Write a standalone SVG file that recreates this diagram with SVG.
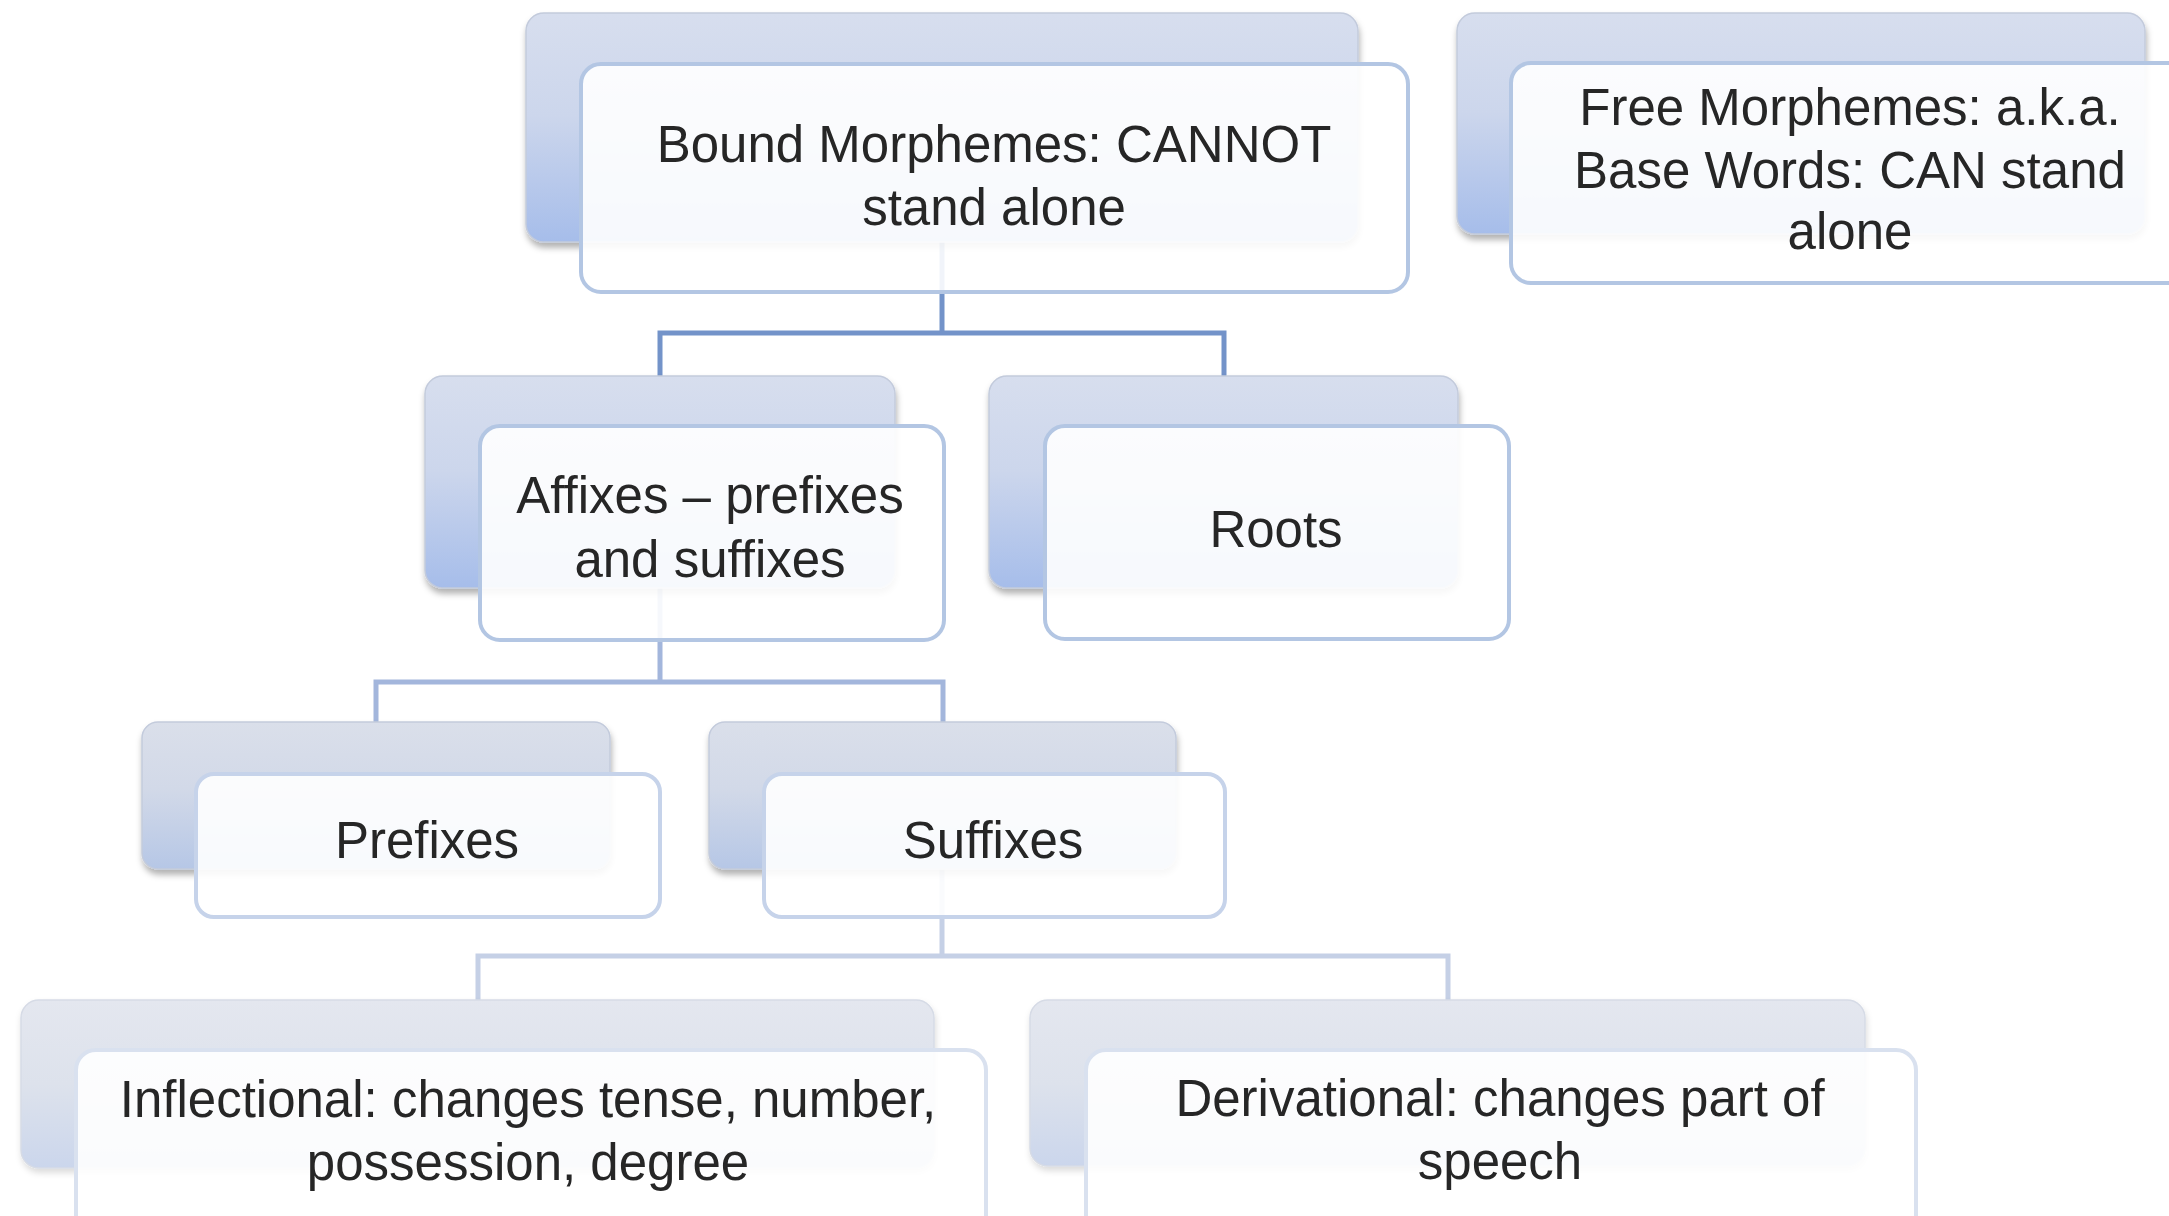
<svg xmlns="http://www.w3.org/2000/svg" width="2169" height="1216" viewBox="0 0 2169 1216">
  <defs>
    <linearGradient id="g1" x1="0" y1="0" x2="0" y2="1">
      <stop offset="0" stop-color="#d7deee"/>
      <stop offset="0.45" stop-color="#ccd6ec"/>
      <stop offset="1" stop-color="#a6bdea"/>
    </linearGradient>
    <linearGradient id="g3" x1="0" y1="0" x2="0" y2="1">
      <stop offset="0" stop-color="#dadfea"/>
      <stop offset="0.45" stop-color="#d2d9e8"/>
      <stop offset="1" stop-color="#b6c7e6"/>
    </linearGradient>
    <linearGradient id="g4" x1="0" y1="0" x2="0" y2="1">
      <stop offset="0" stop-color="#e4e7ef"/>
      <stop offset="0.5" stop-color="#dde2ec"/>
      <stop offset="1" stop-color="#cbd6ec"/>
    </linearGradient>
    <filter id="shadow" x="-5%" y="-5%" width="110%" height="115%">
      <feDropShadow dx="1" dy="5" stdDeviation="3" flood-color="#000" flood-opacity="0.3"/>
    </filter>
    <filter id="soft" x="-5%" y="-5%" width="110%" height="115%">
      <feDropShadow dx="1" dy="4" stdDeviation="3" flood-color="#000" flood-opacity="0.14"/>
    </filter>
  </defs>
  <style>
    .back { stroke: #c3cbdc; stroke-width: 1.5; filter: url(#shadow); }
    .back4 { stroke: #d6dbe6; stroke-width: 1.5; filter: url(#soft); }
    .front { fill: #ffffff; fill-opacity: 0.9; stroke-width: 4; }
    .s1 { stroke: #b3c6e3; }
    .s3 { stroke: #c6d3ea; }
    .s4 { stroke: #d9e1ef; }
    .label { font-family: "Liberation Sans", Arial, sans-serif; font-size: 51px; fill: #262626; text-anchor: middle; }
    .conn { fill: none; stroke-width: 5; stroke-linejoin: miter; }
  </style>
  <rect width="2169" height="1216" fill="#ffffff"/>

  <!-- tree connectors, drawn beneath the boxes -->
  <g id="connectors">
    <path class="conn" stroke="#7393c9" d="M942 242 V333 M660 376 V333 H1224 V376"/>
    <path class="conn" stroke="#a3b6dc" d="M660 588 V682 M376 722 V682 H943 V722"/>
    <path class="conn" stroke="#c5d0e6" d="M942 869 V956 M478 1000 V956 H1448 V1000"/>
  </g>

  <g id="bound">
    <rect class="back" x="526" y="13" width="832" height="229" rx="18" fill="url(#g1)"/>
    <rect class="front s1" x="581" y="64" width="827" height="228" rx="20"/>
    <text class="label" x="994" y="162">Bound Morphemes: CANNOT</text>
    <text class="label" x="994" y="225">stand alone</text>
  </g>

  <g id="free">
    <rect class="back" x="1457" y="13" width="688" height="221" rx="18" fill="url(#g1)"/>
    <rect class="front s1" x="1511" y="63" width="700" height="220" rx="20"/>
    <text class="label" x="1850" y="125">Free Morphemes: a.k.a.</text>
    <text class="label" x="1850" y="188">Base Words: CAN stand</text>
    <text class="label" x="1850" y="249">alone</text>
  </g>

  <g id="affixes">
    <rect class="back" x="425" y="376" width="470" height="212" rx="18" fill="url(#g1)"/>
    <rect class="front s1" x="480" y="426" width="464" height="214" rx="20"/>
    <text class="label" x="710" y="513">Affixes – prefixes</text>
    <text class="label" x="710" y="577">and suffixes</text>
  </g>

  <g id="roots">
    <rect class="back" x="989" y="376" width="469" height="212" rx="18" fill="url(#g1)"/>
    <rect class="front s1" x="1045" y="426" width="464" height="213" rx="20"/>
    <text class="label" x="1276" y="547">Roots</text>
  </g>

  <g id="prefixes">
    <rect class="back" x="142" y="722" width="468" height="147" rx="16" fill="url(#g3)"/>
    <rect class="front s3" x="196" y="774" width="464" height="143" rx="18"/>
    <text class="label" x="427" y="858">Prefixes</text>
  </g>

  <g id="suffixes">
    <rect class="back" x="709" y="722" width="467" height="147" rx="16" fill="url(#g3)"/>
    <rect class="front s3" x="764" y="774" width="461" height="143" rx="18"/>
    <text class="label" x="993" y="858">Suffixes</text>
  </g>

  <g id="inflectional">
    <rect class="back4" x="21" y="1000" width="913" height="168" rx="18" fill="url(#g4)"/>
    <rect class="front s4" x="76" y="1050" width="910" height="200" rx="20"/>
    <text class="label" x="528" y="1117">Inflectional: changes tense, number,</text>
    <text class="label" x="528" y="1180">possession, degree</text>
  </g>

  <g id="derivational">
    <rect class="back4" x="1030" y="1000" width="835" height="166" rx="18" fill="url(#g4)"/>
    <rect class="front s4" x="1086" y="1050" width="830" height="200" rx="20"/>
    <text class="label" x="1500" y="1116">Derivational: changes part of</text>
    <text class="label" x="1500" y="1179">speech</text>
  </g>
</svg>
